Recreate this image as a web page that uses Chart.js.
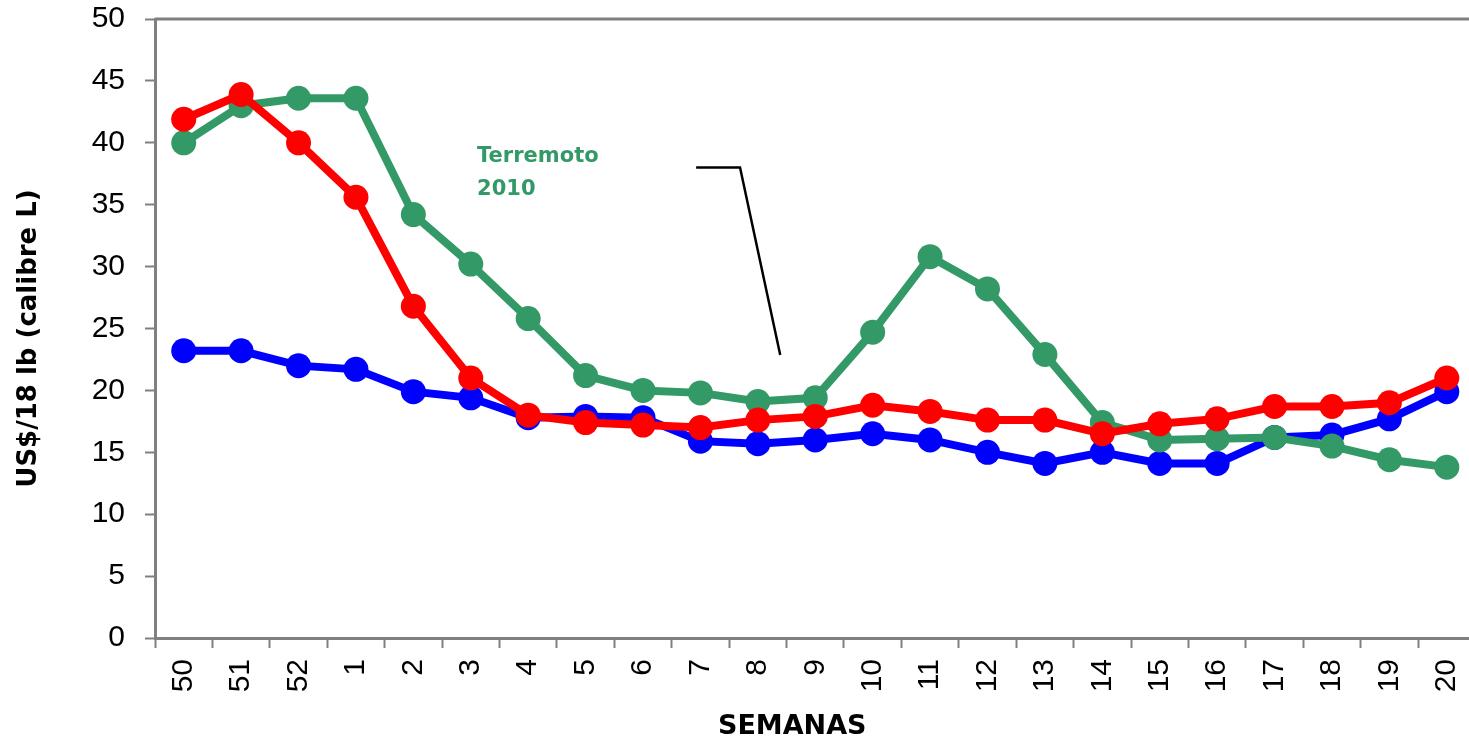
<!DOCTYPE html>
<html>
<head>
<meta charset="utf-8">
<script src="https://cdn.jsdelivr.net/npm/chart.js@4/dist/chart.umd.min.js"></script>
<style>
html,body{margin:0;padding:0;background:#fff;overflow:hidden;}
#wrap{position:relative;width:1488px;height:743px;}
</style>
</head>
<body>
<div id="wrap"><canvas id="c"></canvas></div>
<script>
const categories = ['50','51','52','1','2','3','4','5','6','7','8','9','10','11','12','13','14','15','16','17','18','19','20'];
const blueValues  = [23.2,23.2,22.0,21.7,19.9,19.4,17.8,17.9,17.8,15.9,15.7,16.0,16.5,16.0,15.0,14.1,15.0,14.1,14.1,16.2,16.4,17.7,19.9];
const redValues   = [41.9,43.9,40.0,35.6,26.8,21.0,18.0,17.4,17.2,17.0,17.6,17.9,18.8,18.3,17.6,17.6,16.5,17.3,17.7,18.7,18.7,19.0,21.0];
const greenValues = [40.0,43.0,43.6,43.6,34.2,30.2,25.8,21.2,20.0,19.8,19.1,19.4,24.7,30.8,28.2,22.9,17.4,16.0,16.1,16.2,15.5,14.4,13.8];
const yTicks = [0,5,10,15,20,25,30,35,40,45,50];
const annotationLines = ['Terremoto','2010'];
const xTitle = 'SEMANAS';
const yTitle = 'US$/18 lb (calibre L)';

const FONT = '"DejaVu Sans", sans-serif';
const TICKFONT = '"Liberation Sans", Arial, sans-serif';
const GRAY = '#808080';

const annotationPlugin = {
  id: 'annot',
  afterDraw(chart) {
    const {ctx, chartArea, scales} = chart;
    const x = scales.x, y = scales.y;
    ctx.save();
    // top frame line
    ctx.strokeStyle = GRAY;
    ctx.lineWidth = 3;
    ctx.beginPath();
    ctx.moveTo(chartArea.left, chartArea.top);
    ctx.lineTo(chartArea.right, chartArea.top);
    ctx.stroke();
    // axis titles
    ctx.fillStyle = '#000';
    ctx.textAlign = 'center';
    ctx.textBaseline = 'middle';
    ctx.font = 'bold 27px ' + FONT;
    ctx.fillText(xTitle, (chartArea.left + chartArea.right) / 2 - 23, chartArea.bottom + 89);
    ctx.save();
    ctx.translate(29, (chartArea.top + chartArea.bottom) / 2 + 10);
    ctx.rotate(-Math.PI / 2);
    ctx.font = 'bold 26px ' + FONT;
    ctx.fillText(yTitle, 0, 0);
    ctx.restore();
    // annotation text
    ctx.fillStyle = '#339966';
    ctx.font = 'bold 21px ' + FONT;
    ctx.textAlign = 'left';
    ctx.fillText(annotationLines[0], x.getPixelForValue(5.11), y.getPixelForValue(38.85));
    ctx.fillText(annotationLines[1], x.getPixelForValue(5.11), y.getPixelForValue(36.25));
    // callout line
    ctx.strokeStyle = '#000';
    ctx.lineWidth = 2.5;
    ctx.beginPath();
    ctx.moveTo(x.getPixelForValue(8.925), y.getPixelForValue(38.0));
    ctx.lineTo(x.getPixelForValue(9.69), y.getPixelForValue(38.0));
    ctx.lineTo(x.getPixelForValue(10.39), y.getPixelForValue(22.86));
    ctx.stroke();
    ctx.restore();
  }
};

function ds(label, data, color, order) {
  return {
    label, data, order,
    borderColor: color, backgroundColor: color,
    pointBackgroundColor: color, pointBorderColor: color,
    borderWidth: 8, pointRadius: 12.5, pointHoverRadius: 12.5, pointBorderWidth: 0,
    tension: 0, clip: false
  };
}

new Chart(document.getElementById('c'), {
  type: 'line',
  data: {
    labels: categories,
    datasets: [
      ds('Serie 1', blueValues, '#0000FF', 3),
      ds('Serie 2', greenValues, '#339966', 2),
      ds('Serie 3', redValues, '#FF0000', 1)
    ]
  },
  options: {
    responsive: true,
    maintainAspectRatio: false,
    animation: false,
    layout: { padding: { top: 19, right: 0, left: 0, bottom: 0 } },
    plugins: { legend: { display: false }, tooltip: { enabled: false } },
    scales: {
      x: {
        type: 'category',
        offset: true,
        grid: { display: true, drawOnChartArea: false, drawTicks: true, tickLength: 10, tickColor: GRAY, tickWidth: 2, offset: true },
        border: { display: true, color: GRAY, width: 3 },
        ticks: { color: '#000', font: { family: TICKFONT, size: 30 }, maxRotation: 90, minRotation: 90, padding: 11, autoSkip: false },
        title: { display: false },
        afterFit(scale) { scale.height = 105; scale.paddingLeft = 0; scale.paddingRight = 0; }
      },
      y: {
        min: 0, max: 50,
        afterBuildTicks(scale) { scale.ticks = yTicks.map(v => ({ value: v })); },
        grid: { display: true, drawOnChartArea: false, drawTicks: true, tickLength: 10, tickColor: GRAY, tickWidth: 2 },
        border: { display: true, color: GRAY, width: 3 },
        ticks: { color: '#000', font: { family: TICKFONT, size: 30 }, padding: 20 },
        title: { display: false },
        afterFit(scale) { scale.width = 155; scale.paddingTop = 0; scale.paddingBottom = 0; }
      }
    }
  },
  plugins: [annotationPlugin]
});
</script>
</body>
</html>
